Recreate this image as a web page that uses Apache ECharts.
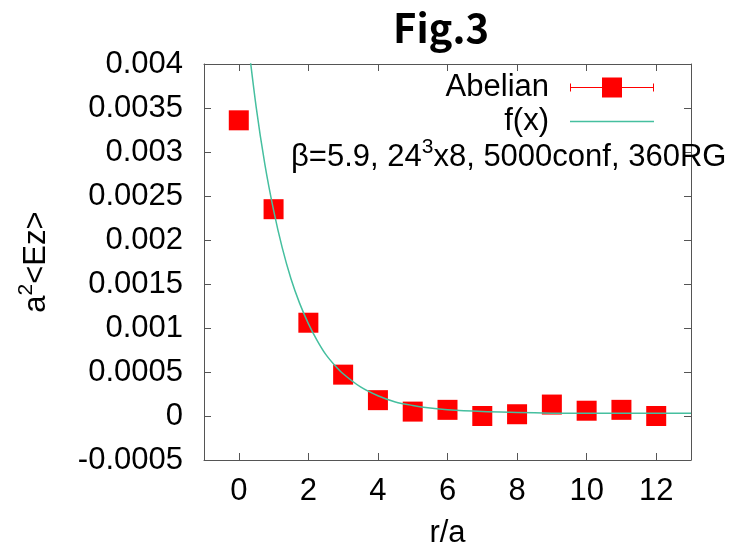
<!DOCTYPE html>
<html>
<head>
<meta charset="utf-8">
<script src="https://cdn.jsdelivr.net/npm/echarts@6/dist/echarts.min.js"></script>
<style>
html,body{margin:0;padding:0;background:#fff;}
#chart{width:741px;height:550px;}
</style>
</head>
<body>
<div id="chart"></div>
<script>
// ---- data ----
const rValues = [0, 1, 2, 3, 4, 5, 6, 7, 8, 9, 10, 11, 12];
const abelianEz = [0.00336, 0.00235, 0.00106, 0.00047, 0.00018, 0.00005, 0.00007, 0.0000, 0.00002, 0.00013, 0.00006, 0.00007, 0.0000];
const fitX = [0.2, 0.5, 0.75, 1, 1.25, 1.5, 1.75, 2, 2.25, 2.5, 2.75, 3, 3.5, 4, 4.5, 5, 5.5, 6, 7, 8, 9, 10, 11, 13];
const fitY = [0.00448, 0.00351, 0.00286, 0.00234, 0.00191, 0.00156, 0.00128, 0.00105, 0.00086, 0.00070, 0.00058, 0.00048, 0.00033, 0.00023, 0.00016, 0.00012, 0.00009, 0.00007, 0.00005, 0.00004, 0.000032, 0.00003, 0.00003, 0.00003];
const xTicks = [0, 2, 4, 6, 8, 10, 12];
const yTicks = [-0.0005, 0, 0.0005, 0.001, 0.0015, 0.002, 0.0025, 0.003, 0.0035, 0.004];
const seriesNames = ['Abelian', 'f(x)'];

const chart = echarts.init(document.getElementById('chart'), null, {renderer: 'canvas'});
const FONT = 'Liberation Sans';
const FS = 31;
const axisCol = '#555555';

const xCommon = {
  type: 'value', min: -1, max: 13,
  axisLine: {show: true, onZero: false, lineStyle: {color: axisCol, width: 1}},
  splitLine: {show: false},
};
const yCommon = {
  type: 'value', min: yTicks[0], max: yTicks[yTicks.length - 1], interval: 0.0005,
  axisLine: {show: true, onZero: false, lineStyle: {color: axisCol, width: 1}},
  splitLine: {show: false},
};

const option = {
  backgroundColor: '#ffffff',
  animation: false,
  title: {
    text: 'Fig.3', left: 388, top: 3,
    textStyle: {fontFamily: 'Noto Sans CJK JP', fontWeight: 'bold', fontSize: 40, color: '#000'}
  },
  grid: {left: 204, right: 50, top: 64, bottom: 90, containLabel: false, outerBoundsMode: 'none'},
  legend: {
    orient: 'vertical', align: 'right', right: 87, top: 72, padding: 0,
    itemGap: 3, itemWidth: 84, itemHeight: 20,
    textStyle: {fontFamily: FONT, fontSize: FS, color: '#000', lineHeight: 30, padding: [0, 16, 0, 0]},
    data: [
      {name: seriesNames[0], icon: 'path://M0,6H1V9.5H32V0H52V9.5H83V6H84V14H83V10.5H52V20H32V10.5H1V14H0Z', itemStyle: {color: '#ff0000'}},
      {name: seriesNames[1], icon: 'path://M0,9.25H84V10.75H0Z', itemStyle: {color: '#45bf9f'}}
    ]
  },
  xAxis: [
    Object.assign({}, xCommon, {
      position: 'bottom',
      name: 'r/a', nameLocation: 'middle', nameGap: 58,
      nameTextStyle: {fontFamily: FONT, fontSize: FS, color: '#000'},
      axisTick: {show: true, inside: true, length: 7, lineStyle: {color: axisCol}, customValues: xTicks},
      axisLabel: {show: true, margin: 16, fontFamily: FONT, fontSize: FS, color: '#000', customValues: xTicks}
    }),
    Object.assign({}, xCommon, {
      position: 'top',
      axisTick: {show: true, inside: true, length: 7, lineStyle: {color: axisCol}, customValues: xTicks},
      axisLabel: {show: false}
    })
  ],
  yAxis: [
    Object.assign({}, yCommon, {
      position: 'left',
      name: '{a|a}{s|2}{a|<Ez>}', nameLocation: 'middle', nameGap: 148, nameRotate: 90,
      nameTextStyle: {
        fontFamily: FONT, fontSize: FS, color: '#000',
        rich: {
          a: {fontFamily: FONT, fontSize: FS, color: '#000', lineHeight: 40},
          s: {fontFamily: FONT, fontSize: 21, color: '#000', lineHeight: 18, verticalAlign: 'top'}
        }
      },
      axisTick: {show: true, inside: true, length: 7, lineStyle: {color: axisCol}},
      axisLabel: {
        show: true, margin: 21, fontFamily: FONT, fontSize: FS, color: '#000',
        formatter: function (v) { return String(parseFloat(v.toFixed(6))); }
      }
    }),
    Object.assign({}, yCommon, {
      position: 'right',
      axisTick: {show: true, inside: true, length: 7, lineStyle: {color: axisCol}},
      axisLabel: {show: false}
    })
  ],
  series: [
    {
      name: seriesNames[0], type: 'scatter', xAxisIndex: 0, yAxisIndex: 0,
      symbol: 'rect', symbolSize: 20, z: 3,
      itemStyle: {color: '#ff0000', opacity: 1},
      data: rValues.map((r, i) => [r, abelianEz[i]])
    },
    {
      name: seriesNames[1], type: 'line', xAxisIndex: 0, yAxisIndex: 0,
      showSymbol: false, symbol: 'none', smooth: 0.3, clip: true, z: 4,
      lineStyle: {color: '#45bf9f', width: 1.5},
      itemStyle: {color: '#45bf9f'},
      data: fitX.map((x, i) => [x, fitY[i]])
    }
  ],
  graphic: [
    {
      type: 'text', left: 291, top: 137, z: 10,
      style: {
        text: '{a|β=5.9, 24}{s|3}{a|x8, 5000conf, 360RG}',
        rich: {
          a: {fontFamily: FONT, fontSize: FS, fill: '#000', lineHeight: 40},
          s: {fontFamily: FONT, fontSize: 21, fill: '#000', lineHeight: 18, verticalAlign: 'top'}
        }
      }
    }
  ]
};
chart.setOption(option);
</script>
</body>
</html>
